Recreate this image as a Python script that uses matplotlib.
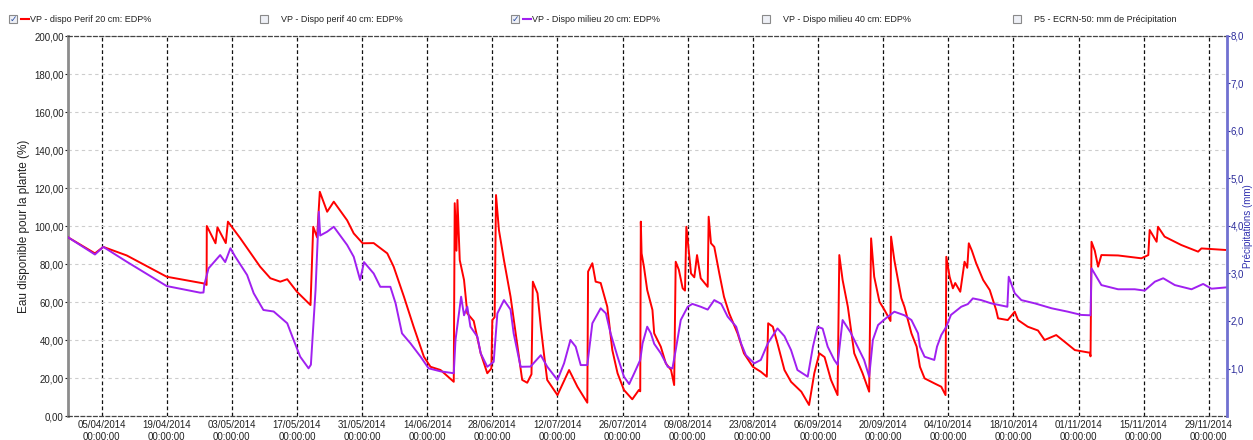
import matplotlib
matplotlib.use('Agg')
import matplotlib.pyplot as plt
import matplotlib.dates as mdates
from matplotlib.patches import Rectangle
from matplotlib.lines import Line2D
from matplotlib.ticker import FuncFormatter
import pandas as pd

plt.rcParams['font.family'] = ['Liberation Sans', 'DejaVu Sans']

# VP - dispo Perif 20 cm: EDP%
rouge_dates = [
    '2014-03-28 20:00', '2014-04-03 14:00', '2014-04-05 09:00', '2014-04-10 10:00',
    '2014-04-19 00:00', '2014-04-26 22:00', '2014-04-27 14:00', '2014-04-27 15:00',
    '2014-04-29 12:00', '2014-04-29 22:00', '2014-05-01 17:00', '2014-05-02 04:00',
    '2014-05-04 20:00', '2014-05-09 02:00', '2014-05-11 07:00', '2014-05-13 10:00',
    '2014-05-14 22:00', '2014-05-17 00:00', '2014-05-19 22:00', '2014-05-20 12:00',
    '2014-05-21 08:00', '2014-05-21 22:00', '2014-05-23 12:00', '2014-05-24 22:00',
    '2014-05-27 19:00', '2014-05-29 05:00', '2014-05-31 03:00', '2014-06-02 12:00',
    '2014-06-05 10:00', '2014-06-06 19:00', '2014-06-09 00:00', '2014-06-11 02:00',
    '2014-06-13 07:00', '2014-06-14 17:00', '2014-06-16 21:00', '2014-06-19 17:00',
    '2014-06-19 22:00', '2014-06-20 07:00', '2014-06-20 12:00', '2014-06-21 00:00',
    '2014-06-21 22:00', '2014-06-22 15:00', '2014-06-24 00:00', '2014-06-25 12:00',
    '2014-06-26 22:00', '2014-06-27 19:00', '2014-06-28 00:00', '2014-06-28 12:00',
    '2014-06-28 19:00', '2014-06-29 10:00', '2014-06-30 12:00', '2014-07-01 22:00',
    '2014-07-03 10:00', '2014-07-04 10:00', '2014-07-05 12:00', '2014-07-06 10:00',
    '2014-07-06 17:00', '2014-07-07 17:00', '2014-07-08 10:00', '2014-07-09 02:00',
    '2014-07-09 19:00', '2014-07-12 00:00', '2014-07-14 12:00', '2014-07-16 07:00',
    '2014-07-18 10:00', '2014-07-18 14:00', '2014-07-19 12:00', '2014-07-20 05:00',
    '2014-07-21 07:00', '2014-07-22 17:00', '2014-07-23 19:00', '2014-07-24 22:00',
    '2014-07-26 07:00', '2014-07-28 02:00', '2014-07-29 12:00', '2014-07-29 19:00',
    '2014-07-29 22:00', '2014-07-30 02:00', '2014-07-30 14:00', '2014-07-31 07:00',
    '2014-08-01 10:00', '2014-08-01 19:00', '2014-08-03 05:00', '2014-08-04 07:00',
    '2014-08-05 10:00', '2014-08-06 02:00', '2014-08-06 10:00', '2014-08-07 02:00',
    '2014-08-07 22:00', '2014-08-08 10:00', '2014-08-08 17:00', '2014-08-09 17:00',
    '2014-08-10 10:00', '2014-08-11 00:00', '2014-08-11 19:00', '2014-08-13 07:00',
    '2014-08-13 12:00', '2014-08-14 00:00', '2014-08-14 17:00', '2014-08-15 19:00',
    '2014-08-16 19:00', '2014-08-17 22:00', '2014-08-19 17:00', '2014-08-21 02:00',
    '2014-08-23 00:00', '2014-08-24 17:00', '2014-08-26 00:00', '2014-08-26 07:00',
    '2014-08-27 07:00', '2014-08-28 07:00', '2014-08-29 19:00', '2014-08-31 05:00',
    '2014-09-02 10:00', '2014-09-04 02:00', '2014-09-05 05:00', '2014-09-06 07:00',
    '2014-09-07 10:00', '2014-09-08 19:00', '2014-09-10 05:00', '2014-09-10 14:00',
    '2014-09-11 07:00', '2014-09-12 10:00', '2014-09-13 19:00', '2014-09-15 14:00',
    '2014-09-17 00:00', '2014-09-17 10:00', '2014-09-18 02:00', '2014-09-19 05:00',
    '2014-09-20 07:00', '2014-09-21 14:00', '2014-09-21 17:00', '2014-09-22 10:00',
    '2014-09-23 05:00', '2014-09-23 22:00', '2014-09-24 14:00', '2014-09-26 02:00',
    '2014-09-27 05:00', '2014-09-27 22:00', '2014-09-28 22:00', '2014-10-01 00:00',
    '2014-10-02 12:00', '2014-10-03 10:00', '2014-10-03 14:00', '2014-10-04 07:00',
    '2014-10-05 00:00', '2014-10-05 12:00', '2014-10-06 14:00', '2014-10-07 12:00',
    '2014-10-08 02:00', '2014-10-08 10:00', '2014-10-09 02:00', '2014-10-10 00:00',
    '2014-10-11 12:00', '2014-10-12 22:00', '2014-10-14 07:00', '2014-10-14 17:00',
    '2014-10-16 19:00', '2014-10-18 07:00', '2014-10-19 00:00', '2014-10-21 02:00',
    '2014-10-23 07:00', '2014-10-24 17:00', '2014-10-27 05:00', '2014-10-29 00:00',
    '2014-10-31 05:00', '2014-11-03 10:00', '2014-11-03 14:00', '2014-11-03 19:00',
    '2014-11-04 12:00', '2014-11-05 05:00', '2014-11-05 22:00', '2014-11-09 12:00',
    '2014-11-14 12:00', '2014-11-16 00:00', '2014-11-16 07:00', '2014-11-17 19:00',
    '2014-11-18 02:00', '2014-11-19 12:00', '2014-11-23 02:00', '2014-11-26 17:00',
    '2014-11-27 10:00', '2014-12-02 12:00',
]
rouge_edp = [
    94, 85.6, 89, 84.5,
    73.3, 69.8, 69, 100,
    90.9, 99.3, 91, 102.3,
    93.5, 78.6, 72.5, 70.7,
    72, 65.4, 58.4, 99.6,
    94, 118, 107.5, 112.8,
    103, 96.1, 90.9, 91,
    85.6, 78.6, 62.8, 47,
    31.2, 25.9, 24.2, 18,
    112, 87, 113.7, 82,
    71.6, 54, 50, 33,
    22.5, 25, 50.5, 52,
    116.3, 97.9, 82, 62.8,
    36.5, 19, 17.5, 22,
    70.7, 64.6, 47, 33,
    19, 11, 24.2, 15.4,
    7, 76, 80.4, 70.7,
    70, 57.5, 34.7, 22.5,
    13.7, 8.8, 13.7, 13,
    102.3, 85.6, 78.6, 66.3,
    55.8, 43.5, 36.5, 27.7,
    24.2, 16.3, 81.2, 77,
    67.2, 66, 99.6, 75,
    73, 84.7, 72.5, 68,
    104.9, 90.9, 89, 75,
    62.8, 54, 43.5, 33,
    25.9, 23.3, 20.7, 48.8,
    47, 38.2, 24.2, 18,
    12.8, 5.8, 22.5, 33,
    31, 19, 11, 84.7,
    71.6, 57.5, 33, 22.5,
    12.8, 93.5, 73.3, 60.2,
    55.8, 50, 94.4, 82,
    71.6, 62, 57.5, 43.5,
    36.5, 25.9, 19.8, 17.2,
    15.4, 11, 83.8, 73.3,
    67.2, 70, 65.4, 81.2,
    78, 90.9, 87, 80.4,
    71.6, 66.3, 55.8, 51.4,
    50.5, 54.9, 50.5, 47,
    45, 40, 42.6, 39.1,
    34.7, 33.3, 31.4, 91.7,
    87, 78.6, 84.7, 84.5,
    83, 84.7, 97.9, 91.7,
    99.6, 94.4, 90, 86.5,
    88.2, 87.4,
]

# VP - Dispo milieu 20 cm: EDP%
violet_dates = [
    '2014-03-28 20:00', '2014-04-03 14:00', '2014-04-05 09:00', '2014-04-10 10:00',
    '2014-04-19 00:00', '2014-04-26 05:00', '2014-04-26 22:00', '2014-04-27 02:00',
    '2014-04-28 00:00', '2014-04-30 12:00', '2014-05-01 14:00', '2014-05-02 17:00',
    '2014-05-03 17:00', '2014-05-06 07:00', '2014-05-07 17:00', '2014-05-09 19:00',
    '2014-05-12 00:00', '2014-05-14 22:00', '2014-05-16 07:00', '2014-05-17 17:00',
    '2014-05-19 12:00', '2014-05-20 00:00', '2014-05-21 00:00', '2014-05-21 17:00',
    '2014-05-22 00:00', '2014-05-23 12:00', '2014-05-24 22:00', '2014-05-27 19:00',
    '2014-05-29 05:00', '2014-05-30 14:00', '2014-05-31 10:00', '2014-06-02 12:00',
    '2014-06-03 22:00', '2014-06-06 02:00', '2014-06-07 05:00', '2014-06-08 14:00',
    '2014-06-10 10:00', '2014-06-12 14:00', '2014-06-14 07:00', '2014-06-16 21:00',
    '2014-06-19 17:00', '2014-06-20 02:00', '2014-06-21 07:00', '2014-06-21 22:00',
    '2014-06-22 15:00', '2014-06-23 07:00', '2014-06-24 19:00', '2014-06-25 12:00',
    '2014-06-26 22:00', '2014-06-28 07:00', '2014-06-29 02:00', '2014-06-30 12:00',
    '2014-07-01 22:00', '2014-07-02 14:00', '2014-07-04 02:00', '2014-07-06 05:00',
    '2014-07-08 10:00', '2014-07-09 19:00', '2014-07-12 00:00', '2014-07-13 10:00',
    '2014-07-14 19:00', '2014-07-15 22:00', '2014-07-17 00:00', '2014-07-18 10:00',
    '2014-07-19 12:00', '2014-07-21 07:00', '2014-07-22 10:00', '2014-07-23 10:00',
    '2014-07-24 22:00', '2014-07-26 07:00', '2014-07-27 10:00', '2014-07-28 12:00',
    '2014-07-29 19:00', '2014-07-30 07:00', '2014-07-31 07:00', '2014-08-01 02:00',
    '2014-08-01 19:00', '2014-08-03 05:00', '2014-08-04 17:00', '2014-08-05 17:00',
    '2014-08-06 10:00', '2014-08-07 12:00', '2014-08-09 00:00', '2014-08-10 00:00',
    '2014-08-11 19:00', '2014-08-13 07:00', '2014-08-14 17:00', '2014-08-16 05:00',
    '2014-08-17 14:00', '2014-08-19 10:00', '2014-08-20 12:00', '2014-08-21 12:00',
    '2014-08-23 07:00', '2014-08-24 17:00', '2014-08-26 05:00', '2014-08-28 07:00',
    '2014-08-29 19:00', '2014-08-31 05:00', '2014-09-01 14:00', '2014-09-03 19:00',
    '2014-09-04 22:00', '2014-09-05 22:00', '2014-09-07 00:00', '2014-09-08 02:00',
    '2014-09-09 12:00', '2014-09-10 05:00', '2014-09-11 07:00', '2014-09-13 00:00',
    '2014-09-14 12:00', '2014-09-15 22:00', '2014-09-17 00:00', '2014-09-17 19:00',
    '2014-09-18 22:00', '2014-09-20 14:00', '2014-09-22 10:00', '2014-09-24 14:00',
    '2014-09-26 02:00', '2014-09-27 12:00', '2014-09-27 22:00', '2014-09-28 22:00',
    '2014-10-01 00:00', '2014-10-01 14:00', '2014-10-02 12:00', '2014-10-03 14:00',
    '2014-10-04 14:00', '2014-10-06 19:00', '2014-10-08 05:00', '2014-10-09 07:00',
    '2014-10-11 02:00', '2014-10-13 05:00', '2014-10-16 17:00', '2014-10-17 00:00',
    '2014-10-18 07:00', '2014-10-19 17:00', '2014-10-22 14:00', '2014-10-26 05:00',
    '2014-10-29 17:00', '2014-11-01 14:00', '2014-11-03 14:00', '2014-11-03 19:00',
    '2014-11-05 22:00', '2014-11-09 12:00', '2014-11-13 02:00', '2014-11-15 05:00',
    '2014-11-17 10:00', '2014-11-19 05:00', '2014-11-21 17:00', '2014-11-25 07:00',
    '2014-11-27 19:00', '2014-11-29 14:00', '2014-12-02 19:00',
]
violet_edp = [
    94, 85, 89, 81.2,
    68.4, 64.9, 65, 69,
    77.7, 84.7, 81, 88.3,
    84, 74.2, 64.6, 55.8,
    55, 48.8, 40, 31.2,
    25.1, 27, 66.3, 107.5,
    95, 97, 99.6, 90,
    83.8, 71.6, 81, 75,
    68, 68, 59.3, 43.5,
    38.2, 31.2, 25.1, 23.5,
    22.5, 40, 62.8, 53,
    57.5, 47, 41.7, 33,
    25.9, 28.5, 54, 61,
    56, 43.5, 25.9, 26,
    32, 26, 19, 27.7,
    40, 36.5, 26.8, 26.8,
    48.8, 56.7, 54, 43.5,
    31.2, 20.7, 16.8, 22.5,
    29.5, 38.2, 47, 43.5,
    38, 33, 25.9, 25,
    34.7, 50.5, 57.5, 59,
    57.5, 56, 61, 59,
    52.3, 47, 38, 32,
    27.7, 29.5, 38.2, 46.1,
    42, 34.7, 24.2, 20.7,
    36.5, 47, 46, 36.5,
    29.5, 27, 50.5, 44,
    36.5, 29.5, 20.7, 40,
    47.9, 51.4, 54.9, 53,
    50.5, 43.5, 36.5, 31.2,
    29.5, 36.5, 42.6, 47,
    53.2, 57.5, 58.9, 61.9,
    61, 59.3, 57.5, 73.3,
    64.6, 61, 59.3, 56.7,
    54.9, 53.2, 53, 77.7,
    68.9, 66.7, 66.7, 66,
    70.7, 72.5, 68.9, 66.7,
    69.5, 67, 67.7,
]

legende = ["VP - dispo Perif 20 cm: EDP%", "VP - Dispo perif 40 cm: EDP%",
           "VP - Dispo milieu 20 cm: EDP%", "VP - Dispo milieu 40 cm: EDP%",
           "P5 - ECRN-50: mm de Précipitation"]
legende_cochee = [True, False, True, False, False]

ticks_dates = ['2014-04-05', '2014-04-19', '2014-05-03', '2014-05-17', '2014-05-31',
               '2014-06-14', '2014-06-28', '2014-07-12', '2014-07-26', '2014-08-09',
               '2014-08-23', '2014-09-06', '2014-09-20', '2014-10-04', '2014-10-18',
               '2014-11-01', '2014-11-15', '2014-11-29']

ROUGE = '#ff0000'
VIOLET = '#a020f0'
W, H = 1253, 440

fig = plt.figure(figsize=(W / 100, H / 100), dpi=100)
ax = fig.add_axes([68 / W, 1 - 416 / H, (1227 - 68) / W, (416 - 36) / H])

ax.plot(pd.to_datetime(rouge_dates), rouge_edp, color=ROUGE, lw=1.4, zorder=3)
ax.plot(pd.to_datetime(violet_dates), violet_edp, color=VIOLET, lw=1.4, zorder=3)

ax.set_xlim(pd.Timestamp('2014-03-28 19:00'), pd.Timestamp('2014-12-02 22:00'))
ax.set_ylim(0, 200)
ax.set_yticks(range(0, 201, 20))
ax.yaxis.set_major_formatter(FuncFormatter(lambda v, p: ('%.2f' % v).replace('.', ',')))
ax.set_xticks(pd.to_datetime(ticks_dates))
ax.xaxis.set_major_formatter(mdates.DateFormatter('%d/%m/%Y\n%H:%M:%S'))
ax.tick_params(axis='both', labelsize=7, length=2, pad=1, colors='#222222')
ax.tick_params(axis='x', length=0, pad=3)

ax.yaxis.grid(True, color='#cdcdcd', ls=(0, (3, 3)), lw=0.8)
ax.xaxis.grid(True, color='#111111', ls=(0, (3, 2)), lw=0.9)

ax.spines['left'].set_color('#8c8c8c')
ax.spines['left'].set_linewidth(2)
for s in ['top', 'bottom']:
    ax.spines[s].set_color('#444444')
    ax.spines[s].set_linestyle((0, (3, 2)))
    ax.spines[s].set_linewidth(0.9)
ax.spines['right'].set_visible(False)

ax.set_ylabel('Eau disponible pour la plante (%)', fontsize=8.5, color='#222222', labelpad=3)

ax2 = ax.twinx()
ax2.set_ylim(0, 8)
ax2.set_yticks(range(1, 9))
ax2.yaxis.set_major_formatter(FuncFormatter(lambda v, p: ('%.1f' % v).replace('.', ',')))
ax2.tick_params(axis='y', labelsize=7, length=2, pad=0.5, colors='#2a2a9a')
for s in ['top', 'bottom', 'left']:
    ax2.spines[s].set_visible(False)
ax2.spines['right'].set_color('#7070d0')
ax2.spines['right'].set_linewidth(2)
ax2.set_ylabel('Précipitations (mm)', fontsize=7, color='#3030b0',
               va='center', ha='center')
ax2.yaxis.set_label_coords((1248 - 68) / (1227 - 68), 0.5)

# legende avec cases a cocher
cases_x = [13, 264, 515, 766, 1017]
for i, txt in enumerate(legende):
    cx = cases_x[i]
    fig.patches.append(Rectangle(((cx - 4) / W, 1 - 23 / H), 8 / W, 8 / H,
                                 transform=fig.transFigure, facecolor='#eef0f6',
                                 edgecolor='#8a8a8a', lw=0.8))
    if legende_cochee[i]:
        fig.text(cx / W, 1 - 19 / H, '✓', fontsize=6.5, color='#3050a0',
                 ha='center', va='center', family=['DejaVu Sans'])
        col = ROUGE if i == 0 else VIOLET
        fig.lines.append(Line2D([(cx + 8) / W, (cx + 16) / W], [1 - 19 / H, 1 - 19 / H],
                                transform=fig.transFigure, color=col, lw=1.5))
    fig.text((cx + 17) / W, 1 - 19 / H, txt, fontsize=6.5, color='#222222',
             ha='left', va='center')

fig.savefig('out.png', dpi=100, facecolor='white')
